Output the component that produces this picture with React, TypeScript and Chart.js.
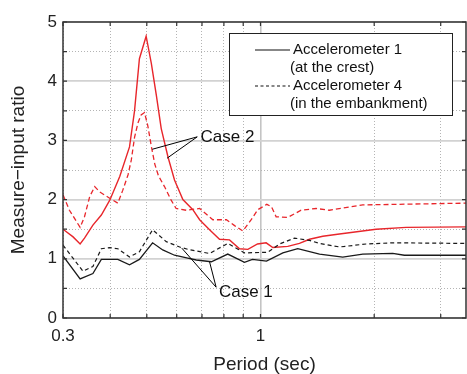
import React, { useEffect, useRef } from "react";
import { Chart, registerables } from "chart.js";

Chart.register(...registerables);

// ---- data ----
const case1Acc1Period = [0.3, 0.333, 0.36, 0.379, 0.419, 0.45, 0.478, 0.518, 0.551, 0.592, 0.642, 0.676, 0.741, 0.819, 0.907, 0.952, 1.037, 1.146, 1.255, 1.433, 1.651, 1.865, 2.239, 2.404, 3.5];
const case1Acc1Ratio = [1.05, 0.66, 0.75, 0.99, 0.99, 0.9, 0.99, 1.27, 1.15, 1.06, 1.01, 0.98, 0.95, 1.08, 0.94, 0.99, 0.96, 1.1, 1.17, 1.08, 1.03, 1.08, 1.09, 1.06, 1.06];

const case1Acc4Period = [0.3, 0.339, 0.36, 0.379, 0.399, 0.419, 0.45, 0.478, 0.518, 0.563, 0.611, 0.642, 0.733, 0.819, 0.907, 1.045, 1.123, 1.23, 1.348, 1.433, 1.618, 1.904, 2.239, 3.5];
const case1Acc4Ratio = [1.23, 0.79, 0.87, 1.17, 1.19, 1.17, 1.03, 1.12, 1.49, 1.29, 1.2, 1.16, 1.09, 1.26, 1.1, 1.11, 1.25, 1.35, 1.31, 1.26, 1.2, 1.25, 1.27, 1.26];

const case2Acc1Period = [0.3, 0.319, 0.333, 0.342, 0.36, 0.379, 0.399, 0.424, 0.45, 0.464, 0.478, 0.498, 0.514, 0.53, 0.546, 0.569, 0.592, 0.623, 0.662, 0.69, 0.733, 0.779, 0.828, 0.88, 0.926, 0.982, 1.035, 1.078, 1.181, 1.268, 1.348, 1.462, 1.618, 2.023, 2.429, 3.5];
const case2Acc1Ratio = [1.5, 1.37, 1.25, 1.35, 1.57, 1.74, 1.99, 2.39, 2.89, 3.5, 4.38, 4.76, 4.3, 3.76, 3.2, 2.72, 2.33, 2.0, 1.83, 1.66, 1.49, 1.33, 1.32, 1.17, 1.16, 1.25, 1.27, 1.19, 1.21, 1.26, 1.33, 1.38, 1.42, 1.5, 1.53, 1.54];

const case2Acc4Period = [0.3, 0.312, 0.333, 0.342, 0.353, 0.364, 0.375, 0.395, 0.419, 0.432, 0.446, 0.455, 0.464, 0.474, 0.483, 0.493, 0.503, 0.514, 0.525, 0.537, 0.557, 0.58, 0.598, 0.636, 0.69, 0.748, 0.812, 0.854, 0.898, 0.945, 0.984, 1.039, 1.069, 1.1, 1.181, 1.281, 1.404, 1.522, 1.865, 3.5];
const case2Acc4Ratio = [2.08, 1.82, 1.53, 1.71, 2.05, 2.22, 2.13, 2.04, 1.94, 2.16, 2.42, 2.67, 3.05, 3.3, 3.43, 3.47, 3.25, 2.9, 2.6, 2.4, 2.22, 1.99, 1.85, 1.82, 1.85, 1.66, 1.66, 1.56, 1.47, 1.66, 1.83, 1.92, 1.88, 1.71, 1.7, 1.82, 1.85, 1.82, 1.91, 1.94];

const xTickValues = [0.3, 0.4, 0.5, 0.6, 0.7, 0.8, 0.9, 1, 2, 3];
const xLabelValues = [0.3, 1];
const yTickLabels = ["0", "1", "2", "3", "4", "5"];

const legendLines = [
  ["Accelerometer 1", "(at the crest)"],
  ["Accelerometer 4", "(in the embankment)"],
];

// annotation anchors in data space: [textX, textY, fromX, fromY, toX1, toY1, toX2, toY2]
const case2Label = "Case 2";
const case2Anchor = [0.694, 3.06, 0.68, 3.06, 0.517, 2.85, 0.566, 2.7];
const case1Label = "Case 1";
const case1Anchor = [0.776, 0.44, 0.763, 0.52, 0.619, 1.18, 0.733, 0.95];

const toPoints = (xs: number[], ys: number[]) => xs.map((x, i) => ({ x, y: ys[i] }));

const RED = "#e8262b";
const BLACK = "#1a1a1a";
const FONT = "'Liberation Sans', Arial, sans-serif";

const framePlugin = {
  id: "frame",
  afterDatasetsDraw(chart: any) {
    const { ctx, chartArea: a, scales } = chart;
    const xs = scales.x;
    const ys = scales.y;
    ctx.save();
    // annotations
    const drawAnno = (label: string, an: number[]) => {
      const px = (v: number) => xs.getPixelForValue(v);
      const py = (v: number) => ys.getPixelForValue(v);
      ctx.strokeStyle = "#000";
      ctx.lineWidth = 1;
      ctx.beginPath();
      ctx.moveTo(px(an[2]), py(an[3]));
      ctx.lineTo(px(an[4]), py(an[5]));
      ctx.moveTo(px(an[2]), py(an[3]));
      ctx.lineTo(px(an[6]), py(an[7]));
      ctx.stroke();
      ctx.fillStyle = "#111";
      ctx.font = `17px ${FONT}`;
      ctx.textAlign = "left";
      ctx.textBaseline = "middle";
      ctx.fillText(label, px(an[0]), py(an[1]));
    };
    drawAnno(case2Label, case2Anchor);
    drawAnno(case1Label, case1Anchor);

    // frame
    ctx.strokeStyle = "#333";
    ctx.lineWidth = 1.5;
    ctx.strokeRect(a.left, a.top, a.right - a.left, a.bottom - a.top);
    const tl = 4;
    ctx.lineWidth = 1.2;
    ctx.beginPath();
    xs.ticks.forEach((t: any) => {
      const x = xs.getPixelForValue(t.value);
      ctx.moveTo(x, a.top);
      ctx.lineTo(x, a.top + tl);
      ctx.moveTo(x, a.bottom);
      ctx.lineTo(x, a.bottom - tl);
    });
    ys.ticks.forEach((t: any) => {
      const y = ys.getPixelForValue(t.value);
      ctx.moveTo(a.right, y);
      ctx.lineTo(a.right - tl, y);
      ctx.moveTo(a.left, y);
      ctx.lineTo(a.left + tl, y);
    });
    ctx.stroke();

    // legend
    const bx = a.left + 166;
    const by = a.top + 11;
    const bw = 223;
    const bh = 82;
    ctx.fillStyle = "#fff";
    ctx.fillRect(bx, by, bw, bh);
    ctx.strokeStyle = "#222";
    ctx.lineWidth = 1;
    ctx.strokeRect(bx + 0.5, by + 0.5, bw, bh);
    ctx.font = `15px ${FONT}`;
    ctx.fillStyle = "#111";
    ctx.textAlign = "left";
    ctx.textBaseline = "middle";
    legendLines.forEach((lines, i) => {
      const y0 = by + 17 + i * 36;
      ctx.strokeStyle = "#111";
      ctx.lineWidth = 1.2;
      ctx.setLineDash(i === 0 ? [] : [3, 2.5]);
      ctx.beginPath();
      ctx.moveTo(bx + 26, y0);
      ctx.lineTo(bx + 61, y0);
      ctx.stroke();
      ctx.setLineDash([]);
      ctx.fillText(lines[0], bx + 64, y0);
      ctx.fillText(lines[1], bx + 61, y0 + 18);
    });
    ctx.restore();
  },
};

export default function App() {
  const ref = useRef<HTMLCanvasElement>(null);
  useEffect(() => {
    document.body.style.margin = "0";
    const canvas = ref.current!;
    const chart = new Chart(canvas, {
      type: "line",
      data: {
        datasets: [
          { label: "Case 1 Acc 1", data: toPoints(case1Acc1Period, case1Acc1Ratio), borderColor: BLACK, borderWidth: 1.3, pointRadius: 0, tension: 0, fill: false },
          { label: "Case 1 Acc 4", data: toPoints(case1Acc4Period, case1Acc4Ratio), borderColor: BLACK, borderWidth: 1.2, borderDash: [4, 3], pointRadius: 0, tension: 0, fill: false },
          { label: "Case 2 Acc 1", data: toPoints(case2Acc1Period, case2Acc1Ratio), borderColor: RED, borderWidth: 1.4, pointRadius: 0, tension: 0, fill: false },
          { label: "Case 2 Acc 4", data: toPoints(case2Acc4Period, case2Acc4Ratio), borderColor: RED, borderWidth: 1.3, borderDash: [5, 3], pointRadius: 0, tension: 0, fill: false },
        ],
      },
      options: {
        animation: false,
        responsive: false,
        devicePixelRatio: 1,
        layout: { padding: { top: 22, right: 1, left: 0, bottom: 0 } },
        plugins: { legend: { display: false }, tooltip: { enabled: false } },
        scales: {
          x: {
            type: "logarithmic",
            min: 0.3,
            max: 3.5,
            afterBuildTicks: (scale: any) => {
              scale.ticks = xTickValues.map((value) => ({ value }));
            },
            afterFit: (scale: any) => {
              scale.height = 56;
            },
            ticks: {
              autoSkip: false,
              maxRotation: 0,
              padding: 8,
              color: "#222",
              font: { size: 17, family: FONT },
              callback: (v: any) => (xLabelValues.includes(Number(v)) ? String(v) : ""),
            },
            grid: {
              drawTicks: false,
              color: (c: any) => (c.tick && c.tick.value === 1 ? "#c4c4c4" : "#b4b4b4"),
              lineWidth: (c: any) => (c.tick && c.tick.value === 1 ? 1.6 : 1),
            },
            border: {
              display: false,
              dash: (c: any) => (c.tick && c.tick.value === 1 ? [] : [1, 2]),
            },
            title: {
              display: true,
              text: "Period (sec)",
              color: "#222",
              font: { size: 19, family: FONT, lineHeight: 1 },
              padding: { top: 0, bottom: 0 },
            },
          },
          y: {
            type: "linear",
            min: 0,
            max: 5,
            afterFit: (scale: any) => {
              scale.width = 63;
            },
            ticks: {
              stepSize: 0.5,
              autoSkip: false,
              padding: 6,
              color: "#222",
              font: { size: 17, family: FONT },
              callback: (v: any) => (Number.isInteger(Number(v)) ? yTickLabels[Number(v)] : ""),
            },
            grid: {
              drawTicks: false,
              color: (c: any) => (c.tick && Number.isInteger(c.tick.value) ? "#d2d2d2" : "#b4b4b4"),
              lineWidth: (c: any) => (c.tick && Number.isInteger(c.tick.value) ? 1.8 : 1),
            },
            border: {
              display: false,
              dash: (c: any) => (c.tick && Number.isInteger(c.tick.value) ? [] : [1, 2]),
            },
            title: {
              display: true,
              text: "Measure\u2212input ratio",
              color: "#222",
              font: { size: 19, family: FONT, lineHeight: 1 },
              padding: { top: 9, bottom: 0 },
            },
          },
        },
      },
      plugins: [framePlugin],
    } as any);
    return () => chart.destroy();
  }, []);
  return (
    <div style={{ width: 467, height: 374 }}>
      <canvas ref={ref} width={467} height={374} style={{ display: "block" }} />
    </div>
  );
}
